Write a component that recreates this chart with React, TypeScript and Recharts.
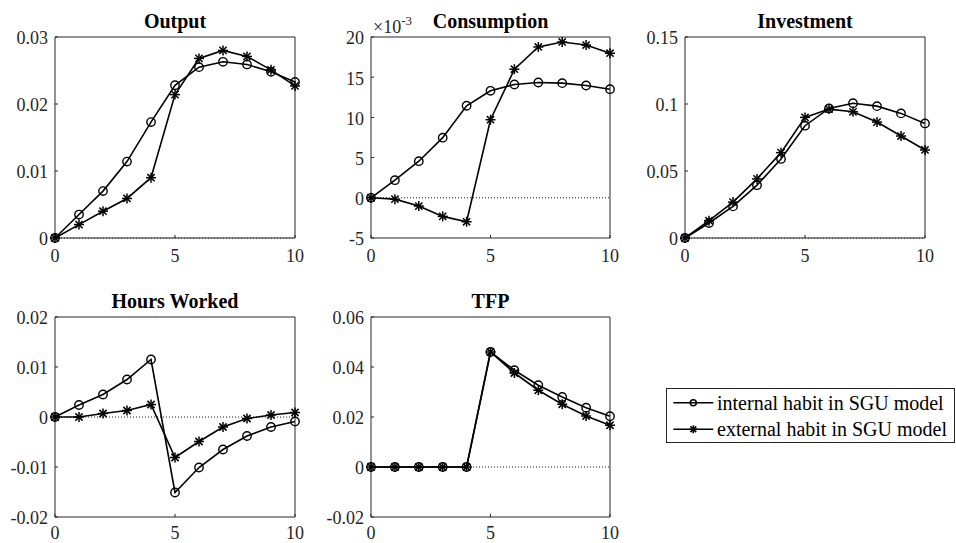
import React from 'react';
import { LineChart, Line, XAxis, YAxis, ReferenceLine, Legend } from 'recharts';

const FONT = '"Liberation Serif", "Times New Roman", Times, serif';
const AXIS = '#262626';

// ---------- data ----------
const periods = [0, 1, 2, 3, 4, 5, 6, 7, 8, 9, 10];
const xTicks = [0, 5, 10];
const xTickLabels = ['0', '5', '10'];
const seriesNames = ['internal habit in SGU model', 'external habit in SGU model'];

const outputInternal = [0, 0.0035, 0.007, 0.0114, 0.0173, 0.0228, 0.0255, 0.0263, 0.0259, 0.0248, 0.0233];
const outputExternal = [0, 0.002, 0.004, 0.0059, 0.009, 0.0214, 0.0268, 0.028, 0.0271, 0.0251, 0.0227];
const outputTicks = [0, 0.01, 0.02, 0.03];
const outputTickLabels = ['0', '0.01', '0.02', '0.03'];

const consumptionInternal = [0, 0.00219, 0.00455, 0.00748, 0.01145, 0.01331, 0.01409, 0.01434, 0.01426, 0.01397, 0.01351];
const consumptionExternal = [0, -0.00017, -0.00103, -0.00231, -0.00298, 0.00971, 0.01599, 0.01876, 0.01938, 0.019, 0.01798];
const consumptionTicks = [-0.005, 0, 0.005, 0.01, 0.015, 0.02];
const consumptionTickLabels = ['-5', '0', '5', '10', '15', '20'];

const investmentInternal = [0, 0.0112, 0.0236, 0.0394, 0.059, 0.0838, 0.0967, 0.1006, 0.0984, 0.093, 0.0855];
const investmentExternal = [0, 0.0129, 0.0268, 0.0441, 0.0637, 0.09, 0.0962, 0.0942, 0.0865, 0.0761, 0.0657];
const investmentTicks = [0, 0.05, 0.1, 0.15];
const investmentTickLabels = ['0', '0.05', '0.1', '0.15'];

const hoursInternal = [0, 0.0024, 0.0045, 0.0075, 0.0115, -0.0151, -0.0101, -0.0065, -0.0038, -0.002, -0.0009];
const hoursExternal = [0, 0.0, 0.0007, 0.0013, 0.0025, -0.0081, -0.0049, -0.002, -0.0003, 0.0004, 0.0009];
const hoursTicks = [-0.02, -0.01, 0, 0.01, 0.02];
const hoursTickLabels = ['-0.02', '-0.01', '0', '0.01', '0.02'];

const tfpInternal = [0, 0, 0, 0, 0, 0.046, 0.0387, 0.0327, 0.028, 0.0237, 0.0203];
const tfpExternal = [0, 0, 0, 0, 0, 0.046, 0.0376, 0.0307, 0.0251, 0.0204, 0.0167];
const tfpTicks = [-0.02, 0, 0.02, 0.04, 0.06];
const tfpTickLabels = ['-0.02', '0', '0.02', '0.04', '0.06'];

// ---------- helpers ----------
function buildRows(a: number[], b: number[]) {
  return periods.map((t, i) => ({ t, internal: a[i], external: b[i] }));
}

function circleMark(cx: number, cy: number, r: number, key?: string, sw = 1.4) {
  return <circle key={key} cx={cx} cy={cy} r={r} fill="none" stroke="#000" strokeWidth={sw} />;
}

function starMark(cx: number, cy: number, r: number, key?: string, sw = 1.5) {
  const d = r * 0.72;
  return (
    <g key={key} stroke="#000" strokeWidth={sw}>
      <line x1={cx - r} y1={cy} x2={cx + r} y2={cy} />
      <line x1={cx} y1={cy - r} x2={cx} y2={cy + r} />
      <line x1={cx - d} y1={cy - d} x2={cx + d} y2={cy + d} />
      <line x1={cx - d} y1={cy + d} x2={cx + d} y2={cy - d} />
    </g>
  );
}

type Rect = { left: number; top: number; w: number; h: number };

const Y_W = 50;
const R_W = 10;
const X_TOP = 30;
const X_BOT = 35;

function LegendBox(props: any) {
  const payload = (props && props.payload) || [];
  const names = seriesNames.map((n, i) => {
    const found = payload.find((p: any) => p.dataKey === (i === 0 ? 'internal' : 'external'));
    return found && found.value ? found.value : n;
  });
  return (
    <svg width={289} height={55} style={{ display: 'block', overflow: 'visible' }}>
      <rect x={0.5} y={0.5} width={288} height={54} fill="#fff" stroke={AXIS} strokeWidth={1} />
      {[0, 1].map((i) => {
        const ly = i === 0 ? 14.7 : 41.3;
        const by = i === 0 ? 21.5 : 48;
        return (
          <g key={i}>
            <line x1={7.3} y1={ly} x2={47.3} y2={ly} stroke="#000" strokeWidth={1.6} />
            {i === 0 ? circleMark(27.3, ly, 3, undefined, 1.5) : starMark(27.3, ly, 4, undefined, 1.6)}
            <text x={51} y={by} fontFamily={FONT} fontSize={20} fill="#000">
              {names[i]}
            </text>
          </g>
        );
      })}
    </svg>
  );
}

function Panel(props: {
  title: string;
  rect: Rect;
  internal: number[];
  external: number[];
  yTicks: number[];
  yLabels: string[];
  xLabelGap: number;
  multiplier?: boolean;
  legend?: boolean;
}) {
  const { title, rect, internal, external, yTicks, yLabels, xLabelGap, multiplier, legend } = props;
  const rows = buildRows(internal, external);
  const width = Y_W + rect.w + R_W;
  const height = X_TOP + rect.h + X_BOT;
  const domain: [number, number] = [yTicks[0], yTicks[yTicks.length - 1]];
  const yLabel = (v: number) => {
    const idx = yTicks.indexOf(v);
    return idx >= 0 ? yLabels[idx] : String(v);
  };
  const xLabel = (v: number) => {
    const idx = xTicks.indexOf(v);
    return idx >= 0 ? xTickLabels[idx] : String(v);
  };
  return (
    <>
      <div
        style={{
          position: 'absolute',
          left: rect.left + rect.w / 2 - 120,
          width: 240,
          top: rect.top - 25.6,
          textAlign: 'center',
          fontFamily: FONT,
          fontWeight: 'bold',
          fontSize: 20,
          lineHeight: '20px',
          color: '#000',
          whiteSpace: 'nowrap',
        }}
      >
        {title}
      </div>
      {multiplier && (
        <div
          style={{
            position: 'absolute',
            left: rect.left + 2,
            top: rect.top - 18.8,
            fontFamily: FONT,
            fontSize: 18,
            lineHeight: '18px',
            color: AXIS,
            whiteSpace: 'nowrap',
          }}
        >
          ×10<span style={{ fontSize: 13, position: 'relative', top: -8 }}>-3</span>
        </div>
      )}
      <div style={{ position: 'absolute', left: rect.left - Y_W, top: rect.top - X_TOP }}>
        <LineChart width={width} height={height} data={rows} margin={{ top: 0, right: 0, bottom: 0, left: 0 }}>
          <XAxis
            xAxisId="bottom"
            dataKey="t"
            type="number"
            orientation="bottom"
            domain={[0, 10]}
            ticks={xTicks}
            interval={0}
            height={X_BOT}
            tickSize={-3}
            tickMargin={3 + xLabelGap}
            stroke={AXIS}
            axisLine={{ stroke: AXIS }}
            tickLine={{ stroke: AXIS }}
            tick={(p: any) => (
              <text x={p.x} y={p.y} textAnchor="middle" fontFamily={FONT} fontSize={18} fill={AXIS}>
                {xLabel(p.payload.value)}
              </text>
            )}
          />
          <XAxis
            xAxisId="top"
            dataKey="t"
            type="number"
            orientation="top"
            domain={[0, 10]}
            ticks={xTicks}
            interval={0}
            height={X_TOP}
            tickSize={-3}
            stroke={AXIS}
            axisLine={{ stroke: AXIS }}
            tickLine={{ stroke: AXIS }}
            tick={false}
          />
          <YAxis
            yAxisId="left"
            type="number"
            orientation="left"
            domain={domain}
            ticks={yTicks}
            interval={0}
            width={Y_W}
            tickSize={-3}
            tickMargin={10}
            stroke={AXIS}
            axisLine={{ stroke: AXIS }}
            tickLine={{ stroke: AXIS }}
            tick={(p: any) => (
              <text x={p.x} y={p.y} dy={7.3} textAnchor="end" fontFamily={FONT} fontSize={18} fill={AXIS}>
                {yLabel(p.payload.value)}
              </text>
            )}
          />
          <YAxis
            yAxisId="right"
            type="number"
            orientation="right"
            domain={domain}
            ticks={yTicks}
            interval={0}
            width={R_W}
            tickSize={-3}
            stroke={AXIS}
            axisLine={{ stroke: AXIS }}
            tickLine={{ stroke: AXIS }}
            tick={false}
          />
          <ReferenceLine
            xAxisId="bottom"
            yAxisId="left"
            y={0}
            stroke="#000"
            strokeWidth={0.9}
            strokeDasharray="1 2"
          />
          <Line
            xAxisId="bottom"
            yAxisId="left"
            type="linear"
            dataKey="internal"
            name={seriesNames[0]}
            stroke="#000"
            strokeWidth={1.6}
            isAnimationActive={false}
            activeDot={false}
            dot={(p: any) => circleMark(p.cx, p.cy, 4.2, `ci-${p.index}`)}
          />
          <Line
            xAxisId="bottom"
            yAxisId="left"
            type="linear"
            dataKey="external"
            name={seriesNames[1]}
            stroke="#000"
            strokeWidth={1.6}
            isAnimationActive={false}
            activeDot={false}
            dot={(p: any) => starMark(p.cx, p.cy, 5, `st-${p.index}`)}
          />
          {legend && (
            <Legend
              layout="vertical"
              align="center"
              verticalAlign="middle"
              wrapperStyle={{ left: 666 - (rect.left - Y_W), top: 388 - (rect.top - X_TOP), width: 289, height: 55 }}
              content={(lp: any) => <LegendBox payload={lp.payload} />}
            />
          )}
        </LineChart>
      </div>
    </>
  );
}

export default function App() {
  return (
    <div
      style={{
        position: 'absolute',
        left: 0,
        top: 0,
        width: 956,
        height: 543,
        background: '#fff',
        overflow: 'hidden',
      }}
    >
      <Panel
        title="Output"
        rect={{ left: 55, top: 37, w: 240, h: 201 }}
        internal={outputInternal}
        external={outputExternal}
        yTicks={outputTicks}
        yLabels={outputTickLabels}
        xLabelGap={24}
      />
      <Panel
        title="Consumption"
        rect={{ left: 371, top: 37, w: 239, h: 201 }}
        internal={consumptionInternal}
        external={consumptionExternal}
        yTicks={consumptionTicks}
        yLabels={consumptionTickLabels}
        xLabelGap={24}
        multiplier
      />
      <Panel
        title="Investment"
        rect={{ left: 685, top: 37, w: 240, h: 201 }}
        internal={investmentInternal}
        external={investmentExternal}
        yTicks={investmentTicks}
        yLabels={investmentTickLabels}
        xLabelGap={24}
      />
      <Panel
        title="Hours Worked"
        rect={{ left: 55, top: 317, w: 240, h: 200 }}
        internal={hoursInternal}
        external={hoursExternal}
        yTicks={hoursTicks}
        yLabels={hoursTickLabels}
        xLabelGap={22}
      />
      <Panel
        title="TFP"
        rect={{ left: 371, top: 317, w: 239, h: 200 }}
        internal={tfpInternal}
        external={tfpExternal}
        yTicks={tfpTicks}
        yLabels={tfpTickLabels}
        xLabelGap={22}
        legend
      />
    </div>
  );
}
